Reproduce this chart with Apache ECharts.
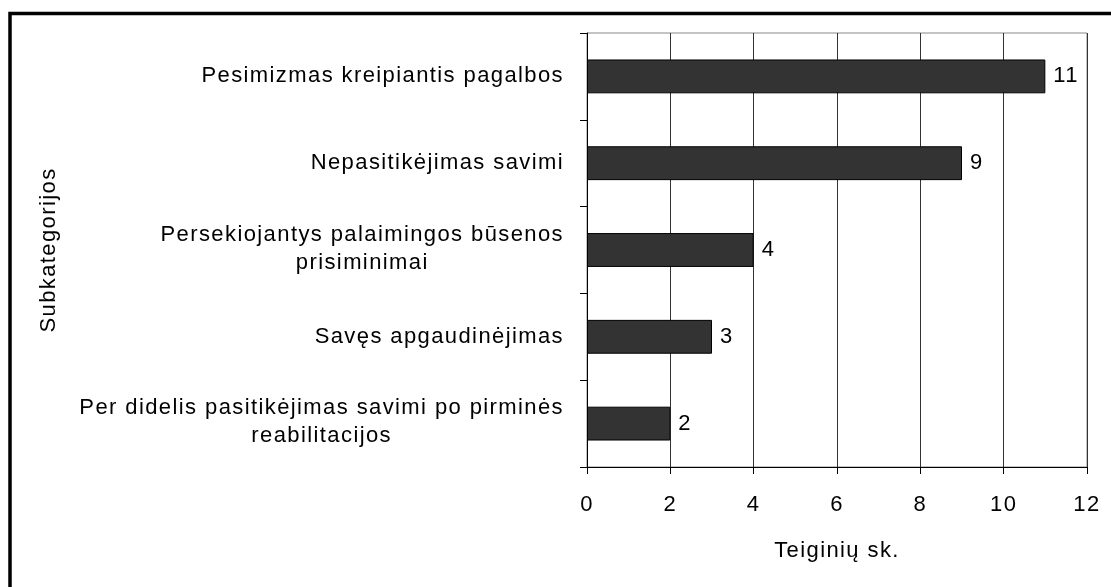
<!DOCTYPE html>
<html>
<head>
<meta charset="utf-8">
<script src="https://cdn.jsdelivr.net/npm/echarts@6/dist/echarts.min.js"></script>
<style>
  html, body { margin: 0; padding: 0; background: #fff; }
  #chart { width: 1111px; height: 587px; }
</style>
</head>
<body>
<div id="chart"></div>
<script>
// categories top to bottom
const categories = [
  'Pesimizmas kreipiantis pagalbos',
  'Nepasitikėjimas savimi',
  'Persekiojantys palaimingos būsenos\nprisiminimai',
  'Savęs apgaudinėjimas',
  'Per didelis pasitikėjimas savimi po pirminės\nreabilitacijos'
]
const values = [11, 9, 4, 3, 2]
const xTicks = [0, 2, 4, 6, 8, 10, 12]

const font = 'Liberation Sans, Arial, sans-serif'
const fontSize = 22

// the old Excel export draws text with some tracking; canvas state gets reset
// on resize, so set it right before every text call (measure + draw)
const tracking = '1.4px'
const proto = CanvasRenderingContext2D.prototype
const origFill = proto.fillText
const origMeasure = proto.measureText
proto.fillText = function (...args) {
  this.letterSpacing = tracking
  return origFill.apply(this, args)
}
proto.measureText = function (...args) {
  this.letterSpacing = tracking
  return origMeasure.apply(this, args)
}

// multi-line labels: lines centred, block sits slightly above the band centre
const fmtLabel = v => {
  const lines = v.split('\n')
  if (lines.length === 1) return '{c|' + v + '}'
  return lines.map((s, i) => (i === lines.length - 1 ? '{m|' : '{c|') + s + '}').join('\n')
}

const chart = echarts.init(document.getElementById('chart'), null, { renderer: 'canvas' })

chart.setOption({
  backgroundColor: '#fff',
  animation: false,
  textStyle: { fontFamily: font },
  grid: { left: 587, right: 24, top: 33, bottom: 120, show: true, borderColor: '#888', borderWidth: 1 },
  graphic: [{
    type: 'rect',
    shape: { x: 10, y: 13.5, width: 1300, height: 800 },
    style: { fill: 'none', stroke: '#000', lineWidth: 3.5 },
    silent: true
  }],
  xAxis: {
    type: 'value',
    min: xTicks[0],
    max: xTicks[xTicks.length - 1],
    interval: 2,
    name: 'Teiginių sk.',
    nameLocation: 'middle',
    nameGap: 72,
    nameTextStyle: { color: '#000', fontSize: fontSize, fontFamily: font },
    axisLine: { show: true, lineStyle: { color: '#000', width: 1 } },
    axisTick: { show: true, length: 7, lineStyle: { color: '#000' } },
    axisLabel: { color: '#000', fontSize: fontSize, fontFamily: font, margin: 26 },
    splitLine: { show: true, lineStyle: { color: '#333', width: 1 } }
  },
  yAxis: {
    type: 'category',
    inverse: true,
    data: categories,
    name: 'Subkategorijos',
    nameLocation: 'middle',
    nameRotate: 90,
    nameGap: 526,
    nameTextStyle: { color: '#000', fontSize: fontSize, fontFamily: font },
    axisLine: { show: true, lineStyle: { color: '#000', width: 1 } },
    axisTick: { show: true, length: 7, lineStyle: { color: '#000' } },
    axisLabel: {
      color: '#000',
      fontSize: fontSize,
      fontFamily: font,
      margin: 23,
      align: 'right',
      lineHeight: 31,
      formatter: fmtLabel,
      rich: {
        c: { align: 'center', fontSize: fontSize, fontFamily: font, color: '#000', lineHeight: 31 },
        m: { align: 'center', fontSize: fontSize, fontFamily: font, color: '#000', lineHeight: 31, padding: [0, 0, 6, 0] }
      }
    },
    splitLine: { show: false }
  },
  series: [{
    type: 'bar',
    data: values,
    barWidth: '39%',
    itemStyle: { color: '#333333', borderColor: '#000', borderWidth: 1 },
    label: {
      show: true,
      position: 'right',
      distance: 8,
      color: '#000',
      fontSize: fontSize,
      fontFamily: font
    }
  }]
})
</script>
</body>
</html>
